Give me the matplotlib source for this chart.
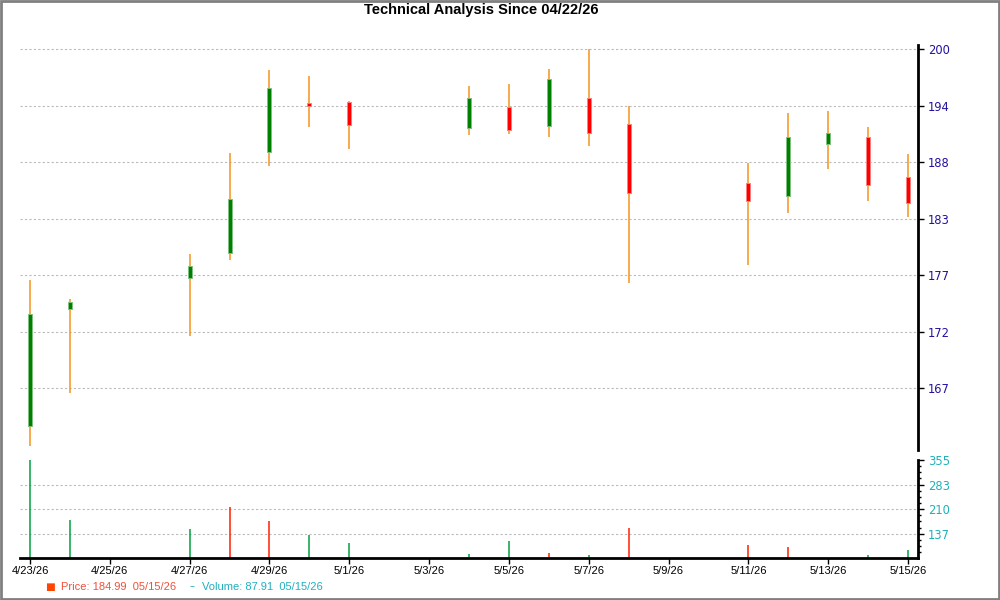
import matplotlib
matplotlib.use("Agg")
import matplotlib.pyplot as plt
import matplotlib.dates as mdates
from matplotlib.ticker import FixedLocator, AutoMinorLocator
from matplotlib.patches import Rectangle
import pandas as pd

# ---- data ----
dates = ["2026-04-23", "2026-04-24", "2026-04-27", "2026-04-28", "2026-04-29",
         "2026-04-30", "2026-05-01", "2026-05-04", "2026-05-05", "2026-05-06",
         "2026-05-07", "2026-05-08", "2026-05-11", "2026-05-12", "2026-05-13",
         "2026-05-14", "2026-05-15"]
opens  = [163.33, 174.69, 177.71, 180.17, 189.97, 194.74, 194.84, 192.31, 194.35,
          192.53, 195.23, 192.76, 186.95, 185.72, 190.75, 191.43, 187.54]
highs  = [177.54, 175.69, 180.07, 189.88, 197.98, 197.40, 194.97, 196.43, 196.62,
          198.08, 200.00, 194.48, 188.96, 193.80, 193.99, 192.44, 189.81]
lows   = [161.41, 166.51, 172.12, 179.52, 188.67, 192.47, 190.27, 191.69, 191.78,
          191.49, 190.62, 177.28, 179.00, 184.09, 188.38, 185.26, 183.70]
closes = [174.20, 175.43, 178.93, 185.40, 196.20, 194.45, 192.63, 195.23, 192.14,
          197.08, 191.82, 185.98, 185.20, 191.43, 191.82, 186.76, 184.99]
volumes = [355.0, 178.8, 152.0, 216.4, 175.8, 134.2, 109.5, 77.8, 116.4,
           81.8, 74.8, 155.0, 104.5, 98.6, 64.0, 74.8, 87.91]
vol_up = [True, True, True, False, False, True, True, True, True,
          False, True, False, False, False, True, True, True]

price_ticks = [200, 194.5, 189, 183.5, 178, 172.5, 167]
price_labels = ["200", "194", "188", "183", "177", "172", "167"]
vol_ticks = [355, 282.5, 210, 137.5]
vol_labels = ["355", "283", "210", "137"]
x_tick_dates = ["2026-04-23", "2026-04-25", "2026-04-27", "2026-04-29", "2026-05-01",
                "2026-05-03", "2026-05-05", "2026-05-07", "2026-05-09", "2026-05-11",
                "2026-05-13", "2026-05-15"]
x_tick_labels = ["4/23/26", "4/25/26", "4/27/26", "4/29/26", "5/1/26", "5/3/26",
                 "5/5/26", "5/7/26", "5/9/26", "5/11/26", "5/13/26", "5/15/26"]
title = "Technical Analysis Since 04/22/26"

# ---- figure ----
W, H = 1000, 600
fig = plt.figure(figsize=(10, 6), dpi=100)
fig.patch.set_facecolor("white")

def px_axes(l, t, r, b):
    return fig.add_axes([l / W, 1 - b / H, (r - l) / W, (b - t) / H])

ax = px_axes(20, 45, 918, 450)
axv = px_axes(20, 460, 918, 557.7)

x = mdates.date2num(pd.to_datetime(dates))
xt = mdates.date2num(pd.to_datetime(x_tick_dates))
xmin = mdates.date2num(pd.Timestamp("2026-04-23")) - 0.25
xmax = mdates.date2num(pd.Timestamp("2026-05-15")) + 0.25

GREEN = "#008000"
GREEN_EDGE = "#7fc07f"
RED = "#FF0000"
RED_EDGE = "#ff8080"
WICK = "#F7931E"

# wicks
ax.vlines(x, lows, highs, colors=WICK, linewidth=1.1, zorder=2)
# bodies
for xi, o, c in zip(x, opens, closes):
    up = c >= o
    lo, hi = (o, c) if up else (c, o)
    ax.bar(xi, max(hi - lo, 0.08), bottom=lo, width=0.1,
           color=GREEN if up else RED,
           edgecolor=GREEN_EDGE if up else RED_EDGE, linewidth=0.7, zorder=3)

ax.set_xlim(xmin, xmax)
ax.set_ylim(160.99, 200.42)
ax.yaxis.set_major_locator(FixedLocator(price_ticks))
ax.set_yticklabels(price_labels)
ax.yaxis.tick_right()
ax.tick_params(axis="y", direction="out", length=4, width=1, pad=3,
               labelsize=8.3, labelcolor="#2211A0", color="black")
ax.set_xticks([])
for s in ["left", "top", "bottom"]:
    ax.spines[s].set_visible(False)
ax.spines["right"].set_linewidth(2)
ax.spines["right"].set_color("black")
ax.grid(axis="y", color="#BBBBBB", linestyle=(0, (2, 2)), linewidth=0.8)
ax.set_axisbelow(True)

# volume
colors = ["#00A040" if u else "#FF2000" for u in vol_up]
axv.vlines(x, 0, volumes, colors=colors, linewidth=1.1)
axv.set_xlim(xmin, xmax)
axv.set_ylim(66.5, 355.2)
axv.yaxis.set_major_locator(FixedLocator(vol_ticks))
axv.set_yticklabels(vol_labels)
axv.yaxis.set_minor_locator(AutoMinorLocator(4))
axv.yaxis.tick_right()
axv.tick_params(axis="y", which="major", direction="out", length=4, width=1, pad=3,
                labelsize=8.3, labelcolor="#20B0B8", color="black")
axv.tick_params(axis="y", which="minor", direction="out", length=2.5, width=1, color="black")
axv.set_xticks(xt)
axv.set_xticklabels(x_tick_labels, family="Liberation Sans")
axv.tick_params(axis="x", direction="out", length=4, width=1, pad=2, labelsize=8,
                labelcolor="black", color="black")
for s in ["left", "top"]:
    axv.spines[s].set_visible(False)
for s in ["right", "bottom"]:
    axv.spines[s].set_linewidth(2)
    axv.spines[s].set_color("black")
axv.grid(axis="y", color="#BBBBBB", linestyle=(0, (2, 2)), linewidth=0.8)
axv.set_axisbelow(True)
axv.yaxis.get_gridlines()[0].set_visible(False)

# title
fig.text(481 / W, 1 - 10 / H, title, ha="center", va="center", fontsize=10.5,
         fontweight="bold", family="Liberation Sans")

# legend
last_close = closes[-1]
last_vol = volumes[-1]
last_date = pd.to_datetime(dates[-1]).strftime("%m/%d/%y")
fig.text(50 / W, 1 - 587 / H, "■", ha="center", va="center", fontsize=7.5, color="#FF4500")
fig.text(61 / W, 1 - 587 / H, f"Price: {last_close:.2f}  {last_date}", ha="left",
         va="center", fontsize=8, color="#F0503A", family="Liberation Sans")
fig.text(192 / W, 1 - 586 / H, "–", ha="center", va="center", fontsize=7, color="#20B0B8")
fig.text(202 / W, 1 - 587 / H, f"Volume: {last_vol:.2f}  {last_date}", ha="left",
         va="center", fontsize=8, color="#20B0C0", family="Liberation Sans")

# border
fig.patches.append(Rectangle((0.0005, 0.001), 0.998, 0.998, transform=fig.transFigure,
                             fill=False, edgecolor="#808080", linewidth=2))

fig.savefig("out.png", dpi=100)
